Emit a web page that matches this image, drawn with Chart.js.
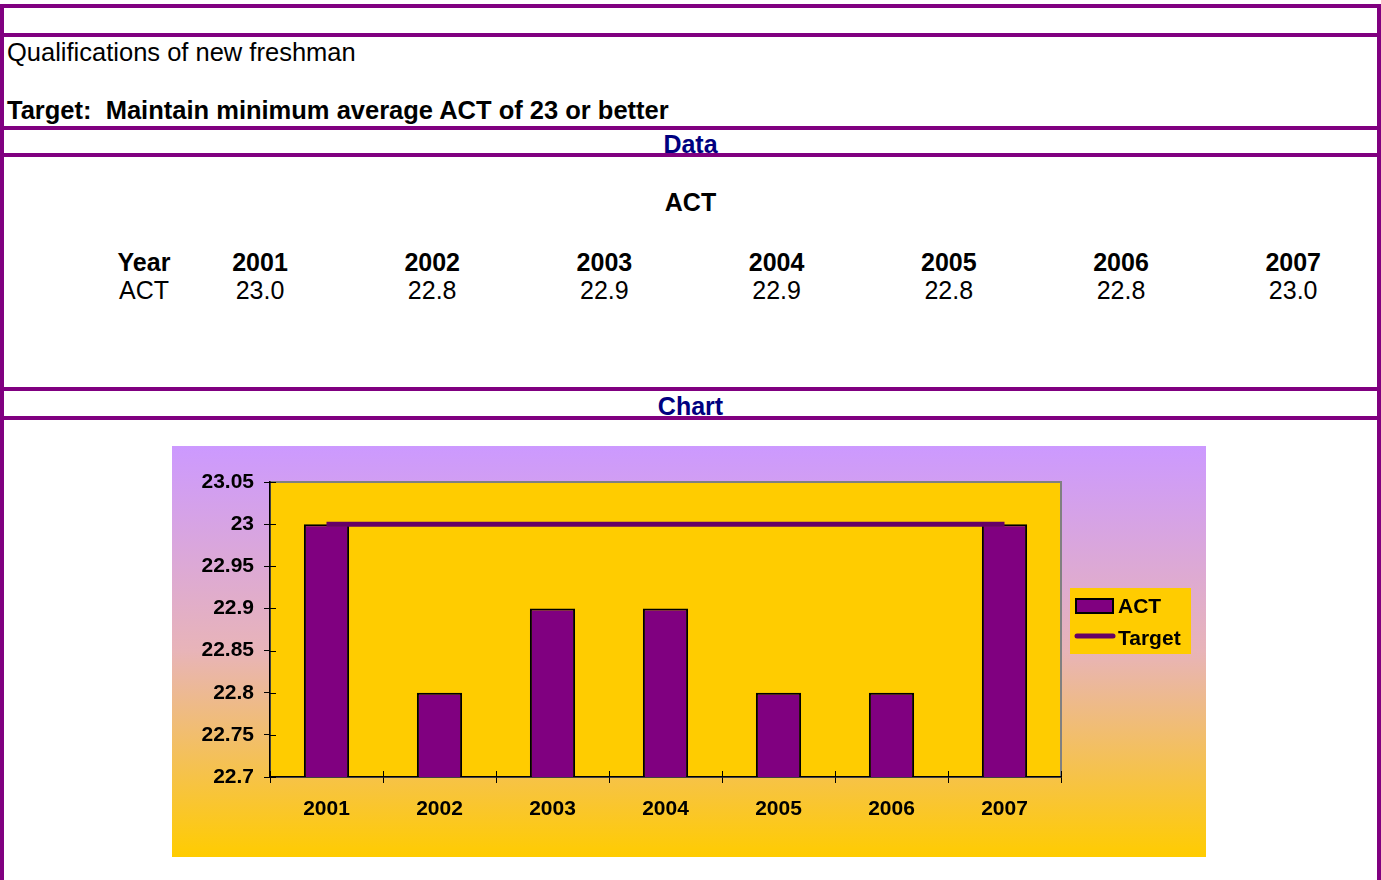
<!DOCTYPE html>
<html>
<head>
<meta charset="utf-8">
<script src="https://cdn.jsdelivr.net/npm/chart.js@4/dist/chart.umd.min.js"></script>
<style>
  html, body { margin: 0; padding: 0; background: #fff; }
  body { width: 1381px; height: 880px; position: relative; overflow: hidden;
         font-family: "Liberation Sans", Arial, sans-serif; color: #000; }
  .bar { position: absolute; background: #800080; }
  .txt { position: absolute; font-size: 25px; line-height: 24px; white-space: nowrap; }
  .head { font-size: 25.5px; }
  .b { font-weight: bold; }
  .navy { color: #000080; }
  .cell { position: absolute; width: 120px; margin-left: -60px; text-align: center;
          font-size: 25px; line-height: 24px; }
  #chartBox { position: absolute; left: 172px; top: 446px; width: 1034px; height: 411px; }
</style>
</head>
<body>
<div class="bar" style="left:0;top:4px;width:1381px;height:4px"></div>
<div class="bar" style="left:0;top:33px;width:1381px;height:4px"></div>
<div class="bar" style="left:0;top:126px;width:1381px;height:4px"></div>
<div class="bar" style="left:0;top:153px;width:1381px;height:4px"></div>
<div class="bar" style="left:0;top:387px;width:1381px;height:4px"></div>
<div class="bar" style="left:0;top:416px;width:1381px;height:4px"></div>
<div class="bar" style="left:0;top:4px;width:4px;height:876px"></div>
<div class="bar" style="left:1377px;top:4px;width:4px;height:876px"></div>

<div class="txt head" style="left:7px;top:40px">Qualifications of new freshman</div>
<div class="txt head b" style="left:7px;top:98px">Target:&nbsp; Maintain minimum average ACT of 23 or better</div>
<div class="txt b navy" style="left:0;width:1381px;text-align:center;top:132px">Data</div>
<div class="txt b" style="left:0;width:1381px;text-align:center;top:190px">ACT</div>
<div id="table"></div>
<div class="txt b navy" style="left:0;width:1381px;text-align:center;top:394px">Chart</div>

<div id="chartBox"><canvas id="actChart"></canvas></div>

<script>
const years = ['2001', '2002', '2003', '2004', '2005', '2006', '2007'];
const actScores = [23.0, 22.8, 22.9, 22.9, 22.8, 22.8, 23.0];
const targetScores = [23, 23, 23, 23, 23, 23, 23];
const yTicks = { min: 22.7, max: 23.05, step: 0.05 };

// Data table above the chart
function buildTable() {
  const table = document.getElementById('table');
  let html = '<div class="cell b" style="left:144px;top:250px">Year</div>' +
             '<div class="cell" style="left:144px;top:278px">ACT</div>';
  years.forEach((yr, i) => {
    const x = 260 + i * 172.2;
    html += `<div class="cell b" style="left:${x}px;top:250px">${yr}</div>`;
    html += `<div class="cell" style="left:${x}px;top:278px">${actScores[i].toFixed(1)}</div>`;
  });
  table.innerHTML = html;
}
buildTable();

const FONT = '"Liberation Sans", Arial, sans-serif';

// Gradient backdrop, yellow plot area, and a hand-drawn legend box
const backdrop = {
  id: 'backdrop',
  beforeDraw(chart) {
    const { ctx, width, height, chartArea: a } = chart;
    ctx.save();
    const g = ctx.createLinearGradient(0, 0, 0, height);
    g.addColorStop(0, '#cc99ff');
    g.addColorStop(0.5, '#e8b4b8');
    g.addColorStop(1, '#ffcc00');
    ctx.fillStyle = g;
    ctx.fillRect(0, 0, width, height);
    ctx.fillStyle = '#ffcc00';
    ctx.fillRect(a.left, a.top, a.right - a.left, a.bottom - a.top);
    ctx.strokeStyle = '#808080';
    ctx.lineWidth = 2;
    ctx.strokeRect(a.left, a.top, a.right - a.left, a.bottom - a.top);
    ctx.restore();
  },
  afterDraw(chart) {
    const { ctx, scales } = chart;
    const a = chart.chartArea;
    const ds = chart.data.datasets;
    ctx.save();
    // tick marks crossing into the plot, like the original
    ctx.strokeStyle = '#000';
    ctx.lineWidth = 1;
    ctx.beginPath();
    scales.y.ticks.forEach((t, i) => {
      const py = Math.round(scales.y.getPixelForTick(i)) + 0.5;
      ctx.moveTo(a.left, py);
      ctx.lineTo(a.left + 6, py);
    });
    for (let i = 0; i <= years.length; i++) {
      const px = Math.round(scales.x.getPixelForValue(i - 0.5)) + 0.5;
      ctx.moveTo(px, a.bottom);
      ctx.lineTo(px, a.bottom - 6);
    }
    ctx.stroke();

    ctx.fillStyle = '#ffcc00';
    ctx.fillRect(898, 142, 121, 66);
    ctx.fillStyle = '#800080';
    ctx.fillRect(904, 153, 37, 14);
    ctx.strokeStyle = '#000';
    ctx.lineWidth = 2;
    ctx.strokeRect(904, 153, 37, 14);
    ctx.strokeStyle = '#660066';
    ctx.lineWidth = 5;
    ctx.lineCap = 'round';
    ctx.beginPath();
    ctx.moveTo(905, 190);
    ctx.lineTo(941, 190);
    ctx.stroke();
    ctx.fillStyle = '#000';
    ctx.font = 'bold 21px ' + FONT;
    ctx.textBaseline = 'middle';
    ctx.fillText(ds[0].label, 946, 161);
    ctx.fillText(ds[1].label, 946, 193);
    ctx.restore();
  }
};

new Chart(document.getElementById('actChart'), {
  type: 'bar',
  data: {
    labels: years,
    datasets: [{
      type: 'bar',
      label: 'ACT',
      data: actScores,
      backgroundColor: '#800080',
      borderColor: '#000',
      borderWidth: 2,
      borderSkipped: 'bottom',
      categoryPercentage: 1,
      barPercentage: 0.4,
      order: 2
    }, {
      type: 'line',
      label: 'Target',
      data: targetScores,
      borderColor: '#660066',
      borderWidth: 5,
      pointRadius: 0,
      tension: 0,
      order: 1
    }]
  },
  options: {
    responsive: true,
    maintainAspectRatio: false,
    animation: false,
    layout: { padding: { top: 36, right: 145, left: 0, bottom: 0 } },
    plugins: {
      legend: { display: false },
      tooltip: { enabled: false }
    },
    scales: {
      x: {
        offset: true,
        afterFit: (s) => { s.height = 80; },
        grid: { display: true, drawOnChartArea: false, offset: true, tickLength: 6, color: '#000', lineWidth: 1 },
        border: { display: true, color: '#000', width: 1.5 },
        ticks: { font: { family: FONT, size: 21, weight: 'bold' }, color: '#000', padding: 14 }
      },
      y: {
        min: yTicks.min,
        max: yTicks.max,
        afterFit: (s) => { s.width = 98; },
        grid: { display: true, drawOnChartArea: false, tickLength: 6, color: '#000', lineWidth: 1 },
        border: { display: true, color: '#000', width: 1.5 },
        ticks: {
          stepSize: yTicks.step,
          font: { family: FONT, size: 21, weight: 'bold' },
          color: '#000',
          padding: 10,
          callback: (val) => String(Number(val.toFixed(2)))
        }
      }
    }
  },
  plugins: [backdrop]
});
</script>
</body>
</html>
